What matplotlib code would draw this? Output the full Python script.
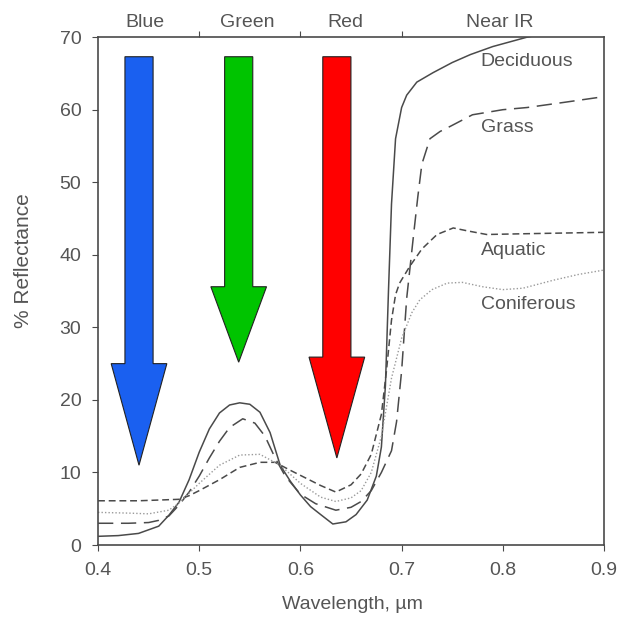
#!/usr/bin/env python3
import matplotlib
matplotlib.use('Agg')
import matplotlib.pyplot as plt
from matplotlib.patches import FancyArrow

# spectral reflectance curves
decid_x = [0.40, 0.42, 0.44, 0.46, 0.47, 0.48, 0.49, 0.50, 0.51, 0.52, 0.53, 0.54,
           0.55, 0.56, 0.57, 0.58, 0.59, 0.60, 0.61, 0.62, 0.632, 0.645, 0.655,
           0.666, 0.675, 0.68, 0.684, 0.687, 0.690, 0.694, 0.700, 0.705, 0.715,
           0.731, 0.750, 0.768, 0.790, 0.824, 0.86, 0.90]
decid_y = [1.2, 1.3, 1.6, 2.6, 4.1, 5.9, 9.0, 12.8, 16.0, 18.2, 19.3, 19.6,
           19.4, 18.3, 15.5, 11.0, 8.8, 6.9, 5.3, 4.2, 2.9, 3.2, 4.2,
           6.2, 9.5, 13.5, 22.0, 35.0, 47.0, 56.0, 60.3, 62.0, 63.8,
           65.1, 66.5, 67.6, 68.7, 70.0, 71.0, 72.0]

grass_x = [0.40, 0.43, 0.45, 0.46, 0.47, 0.48, 0.49, 0.50, 0.51, 0.52, 0.53, 0.543,
           0.555, 0.565, 0.575, 0.585, 0.60, 0.615, 0.635, 0.65, 0.66, 0.67,
           0.68, 0.69, 0.695, 0.70, 0.705, 0.712, 0.716, 0.72, 0.728, 0.738,
           0.748, 0.77, 0.80, 0.824, 0.86, 0.90]
grass_y = [3.0, 3.0, 3.1, 3.4, 4.0, 5.5, 7.3, 9.5, 12.0, 14.3, 16.2, 17.4,
           16.8, 15.0, 12.0, 9.5, 7.0, 5.7, 4.8, 5.2, 6.0, 7.5,
           10.0, 13.0, 17.0, 24.0, 34.0, 43.0, 48.0, 52.5, 56.0, 57.0,
           57.7, 59.3, 60.0, 60.3, 61.0, 61.8]

aqua_x = [0.40, 0.44, 0.48, 0.49, 0.50, 0.52, 0.54, 0.56, 0.575, 0.59, 0.60,
          0.62, 0.635, 0.65, 0.66, 0.67, 0.68, 0.685, 0.69, 0.694, 0.698,
          0.708, 0.72, 0.735, 0.751, 0.765, 0.784, 0.82, 0.86, 0.90]
aqua_y = [6.1, 6.1, 6.3, 6.8, 7.5, 9.0, 10.7, 11.4, 11.4, 10.3, 9.6,
          8.2, 7.3, 8.3, 9.8, 12.5, 18.0, 24.0, 31.0, 34.5, 36.1,
          38.4, 40.8, 42.8, 43.7, 43.3, 42.8, 42.9, 43.0, 43.1]

conif_x = [0.40, 0.43, 0.45, 0.47, 0.48, 0.50, 0.52, 0.54, 0.56, 0.58, 0.60,
           0.62, 0.635, 0.65, 0.66, 0.67, 0.68, 0.69, 0.70, 0.71, 0.718,
           0.73, 0.745, 0.76, 0.78, 0.80, 0.82, 0.85, 0.875, 0.90]
conif_y = [4.5, 4.4, 4.3, 4.8, 5.8, 8.5, 11.0, 12.4, 12.5, 11.0, 8.5,
           6.6, 6.0, 6.5, 7.5, 10.0, 15.0, 23.0, 28.5, 32.0, 33.8,
           35.2, 36.1, 36.2, 35.6, 35.2, 35.4, 36.5, 37.3, 37.9]

curve_names = ['Deciduous', 'Grass', 'Aquatic', 'Coniferous']
name_x = [0.778, 0.778, 0.778, 0.778]
name_y = [66.6, 57.6, 40.6, 33.2]

band_names = ['Blue', 'Green', 'Red', 'Near IR']
band_x = [0.446, 0.547, 0.644, 0.797]
band_edges = [0.5, 0.6, 0.7]

# down arrows: centre, top, tip, start of head
arrow_x = [0.4405, 0.539, 0.636]
arrow_top = [67.3, 67.3, 67.3]
arrow_tip = [11.0, 25.2, 12.0]
arrow_head = [25.0, 35.6, 25.9]
arrow_col = ['#1a60f0', '#00c400', '#ff0000']

txt = '#555555'
ink = '#4a4a4a'


def main():
    plt.rcParams['font.family'] = ['Liberation Sans', 'DejaVu Sans']

    fig = plt.figure(figsize=(6.22, 6.19), dpi=100)
    ax = fig.add_axes([0.1576, 0.1195, 0.8135, 0.8205])

    ax.plot(decid_x, decid_y, color=ink, lw=1.1, ls='-')
    ax.plot(grass_x, grass_y, color=ink, lw=1.1, ls=(0, (10, 5)))
    ax.plot(aqua_x, aqua_y, color=ink, lw=1.1, ls=(0, (4.5, 2.5)))
    ax.plot(conif_x, conif_y, color='#9a9a9a', lw=1.0, ls=(0, (1, 1.5)))

    for i in range(len(arrow_x)):
        top = arrow_top[i]
        a = FancyArrow(arrow_x[i], top, 0, arrow_tip[i] - top, width=0.0278,
                       head_width=0.055, head_length=arrow_head[i] - arrow_tip[i],
                       length_includes_head=True, facecolor=arrow_col[i],
                       edgecolor='#222222', lw=0.8, zorder=3)
        ax.add_patch(a)

    for name, x, y in zip(curve_names, name_x, name_y):
        ax.text(x, y, name, color=txt, fontsize=14, ha='left', va='center')

    for name, x in zip(band_names, band_x):
        ax.text(x, 70.9, name, color=txt, fontsize=14, ha='center', va='bottom')

    ax.set_xlim(0.4, 0.9)
    ax.set_ylim(0, 70)
    ax.set_xticks([0.4, 0.5, 0.6, 0.7, 0.8, 0.9])
    ax.set_xticklabels(['0.4', '0.5', '0.6', '0.7', '0.8', '0.9'])
    ax.set_yticks(range(0, 71, 10))
    ax.tick_params(direction='out', length=4, color=ink, labelcolor=txt,
                   labelsize=14)
    ax.tick_params(axis='x', pad=8)
    ax.tick_params(axis='y', pad=8)

    top = ax.secondary_xaxis('top')
    top.set_xticks(band_edges)
    top.set_xticklabels(['', '', ''])
    top.tick_params(direction='out', length=4, color=ink)
    top.spines['top'].set_visible(False)

    for s in ax.spines.values():
        s.set_color(ink)
        s.set_linewidth(1.2)

    ax.set_xlabel('Wavelength, \u00b5m', color=txt, fontsize=14)
    ax.xaxis.set_label_coords(0.502, -0.100)
    ax.set_ylabel('% Reflectance', color=txt, fontsize=15)
    ax.yaxis.set_label_coords(-0.128, 0.559)

    plt.savefig('out.png', dpi=100)


if __name__ == '__main__':
    main()
